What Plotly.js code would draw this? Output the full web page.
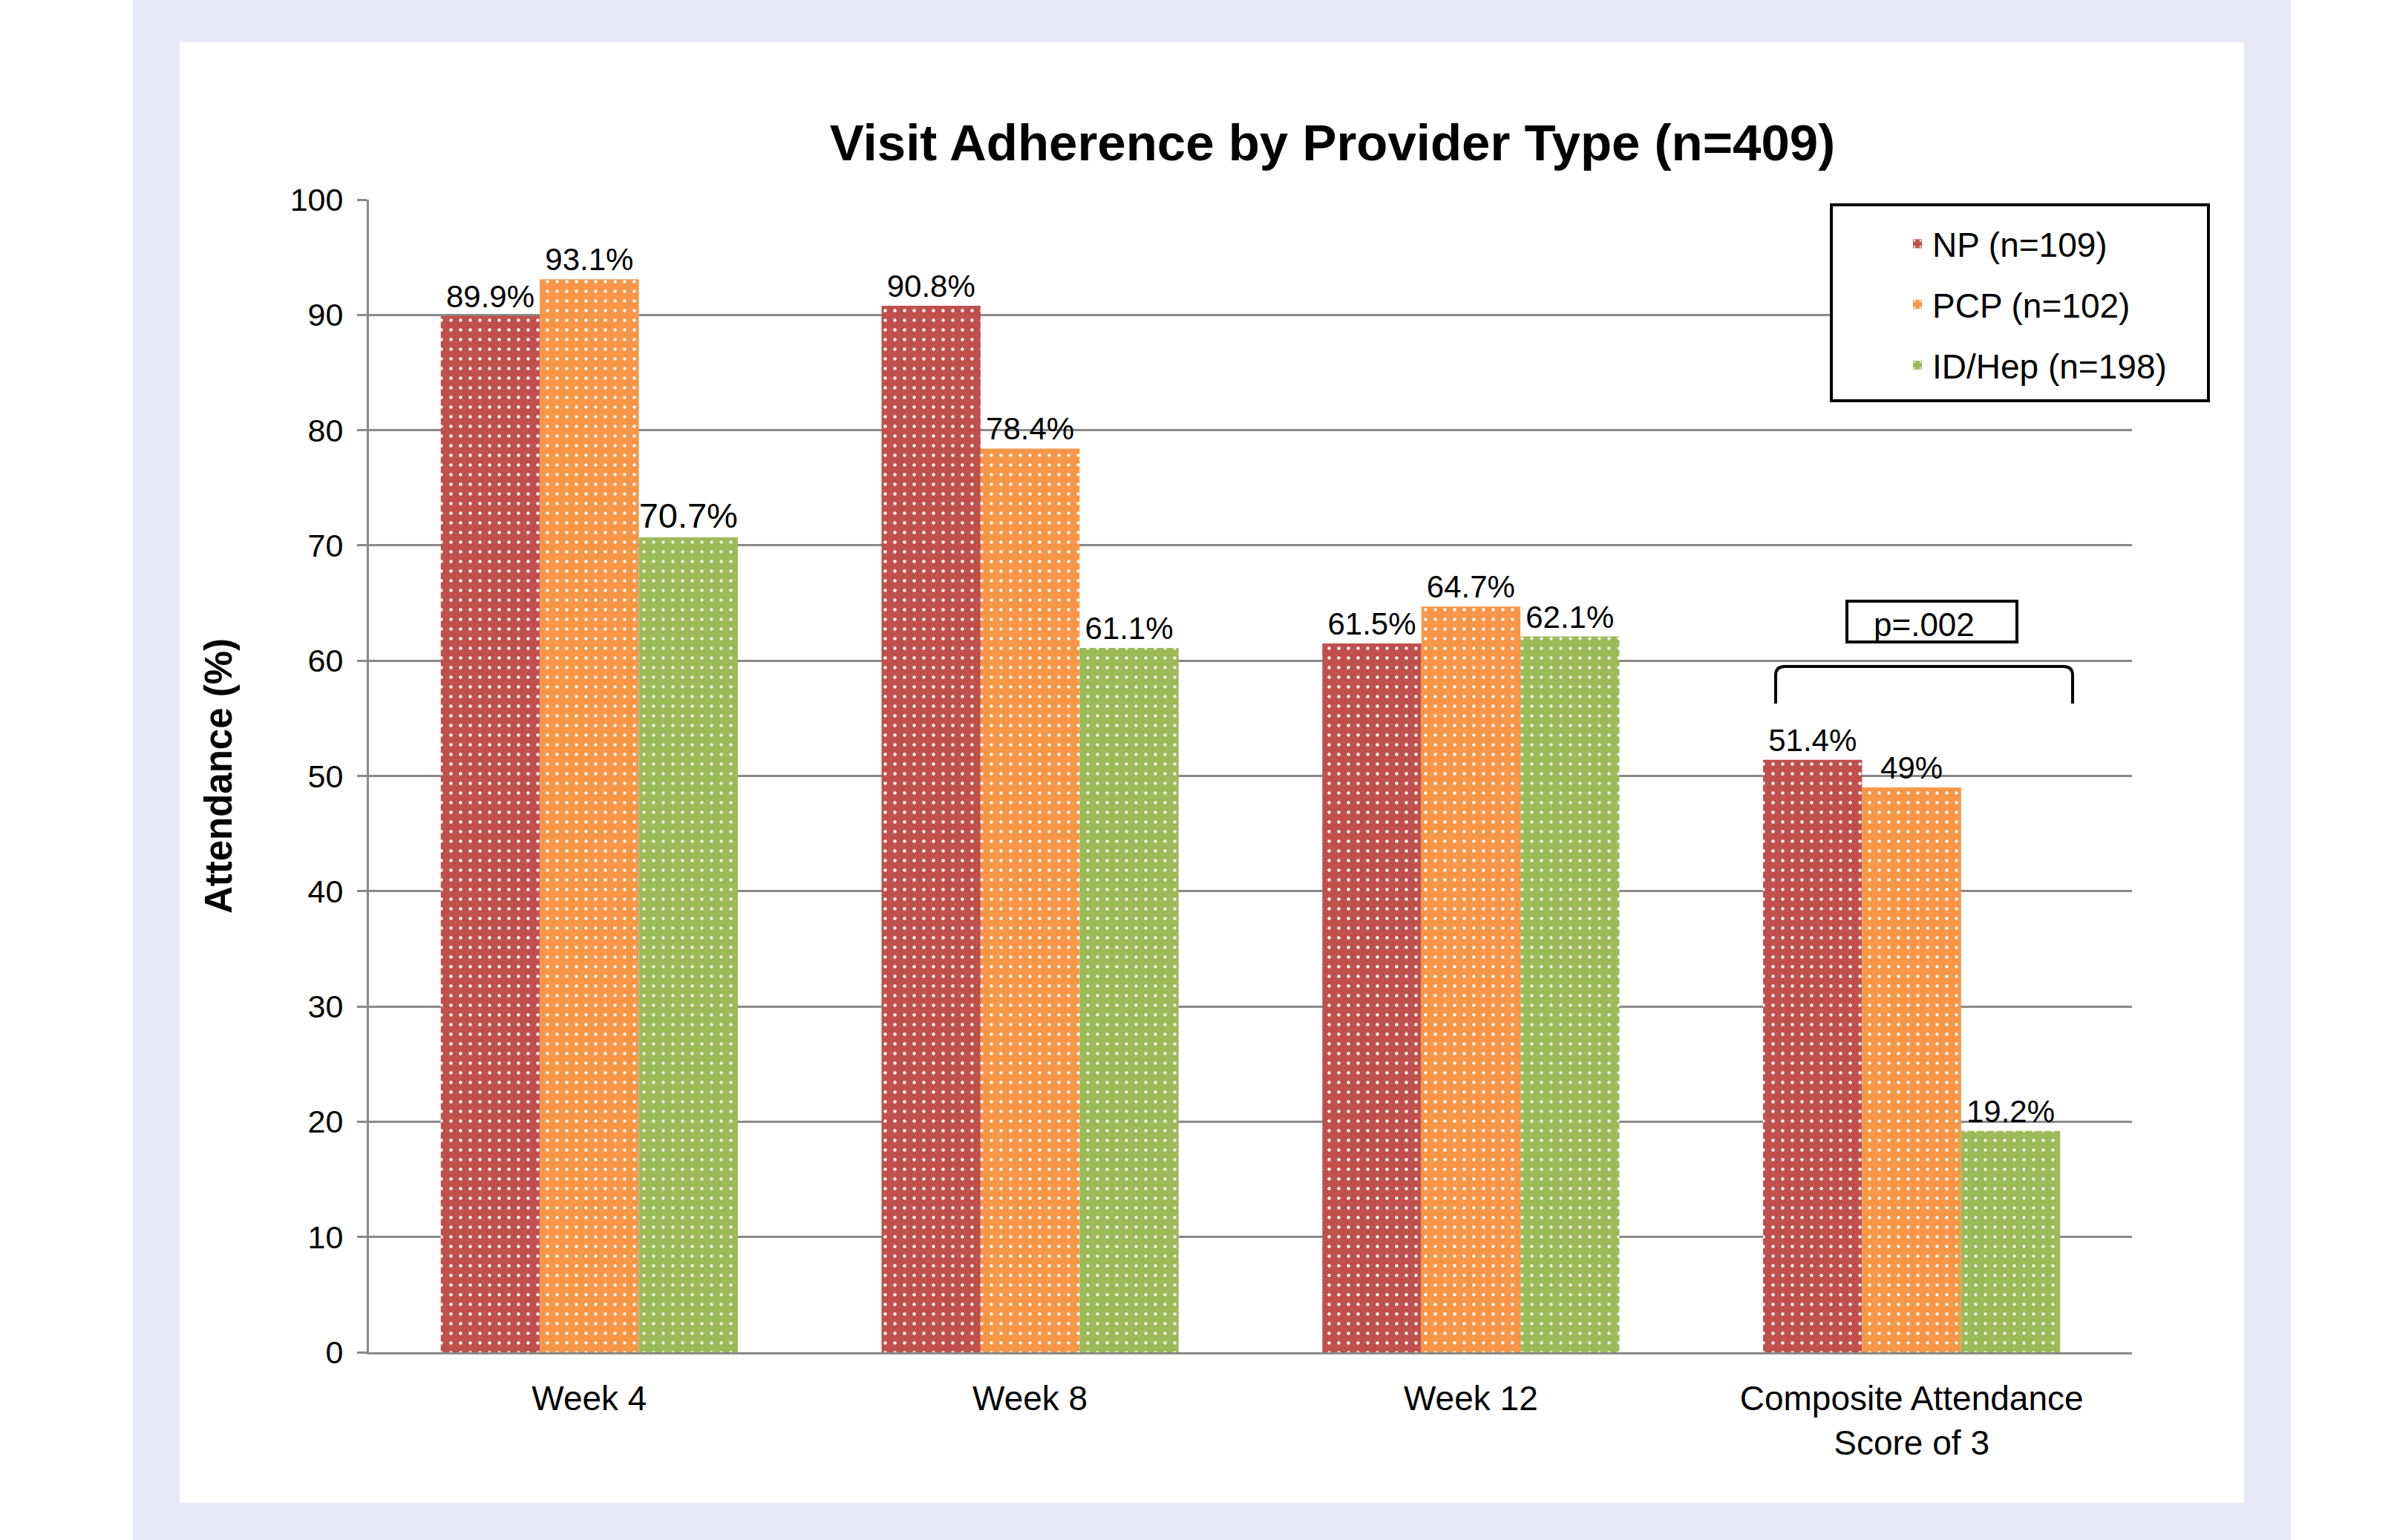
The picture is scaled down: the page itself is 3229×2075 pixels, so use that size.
<!DOCTYPE html>
<html>
<head>
<meta charset="utf-8">
<script src="https://cdn.plot.ly/plotly-3.0.1.min.js"></script>
<style>
  html, body { margin: 0; padding: 0; background: #ffffff; }
  #chart { width: 3229px; height: 2075px; }
</style>
</head>
<body>
<div id="chart"></div>
<script>
// ---- Data ----
const categories = ['Week 4', 'Week 8', 'Week 12', 'Composite Attendance Score of 3'];
const tickLabels = ['Week 4', 'Week 8', 'Week 12', 'Composite Attendance<br>Score of 3'];
const seriesNames = ['NP (n=109)', 'PCP (n=102)', 'ID/Hep (n=198)'];
const npValues = [89.9, 90.8, 61.5, 51.4];
const pcpValues = [93.1, 78.4, 64.7, 49];
const idhepValues = [70.7, 61.1, 62.1, 19.2];
const yTickValues = [0, 10, 20, 30, 40, 50, 60, 70, 80, 90, 100];
const chartTitle = 'Visit Adherence by Provider Type (n=409)';
const yAxisTitle = 'Attendance (%)';
const pValueText = 'p=.002';

// ---- Layout geometry (pixels) ----
const FIG_W = 3229, FIG_H = 2075;
const PL = 497, PR = 2872, PT = 269, PB = 1822;
const PW = PR - PL, PH = PB - PT;
const X = px => (px - PL) / PW;
const Y = py => (PB - py) / PH;

const FONT = 'Liberation Sans, Arial, Helvetica, sans-serif';
const GRID = '#898989';
const colors = ['#C0504D', '#F79646', '#9BBB59'];
const dotColors = ['#FFFFFF', '#FFFFFF', '#EDF0E2'];

function pctLabels(vals) { return vals.map(v => v + '%'); }

const valueSets = [npValues, pcpValues, idhepValues];
const labelSizes = [42, 42, [47, 42, 42, 42]];

const traces = valueSets.map((vals, i) => ({
  type: 'bar',
  name: seriesNames[i],
  legendgroup: 'g' + i,
  x: categories,
  y: vals,
  text: pctLabels(vals),
  textposition: 'outside',
  cliponaxis: false,
  constraintext: 'none',
  textfont: { family: FONT, size: labelSizes[i], color: '#000000' },
  marker: {
    color: colors[i],
    line: { width: 0 },
    pattern: { shape: '.', fgcolor: dotColors[i], bgcolor: colors[i], size: 13, solidity: 0.09, fillmode: 'replace' }
  },
  hoverinfo: 'skip'
}));

// bracket path in pixels -> paper
function bracketPath(x0, x1, yTop, yBot, r) {
  return 'M' + X(x0) + ',' + Y(yBot) +
    ' L' + X(x0) + ',' + Y(yTop + r) +
    ' Q' + X(x0) + ',' + Y(yTop) + ' ' + X(x0 + r) + ',' + Y(yTop) +
    ' L' + X(x1 - r) + ',' + Y(yTop) +
    ' Q' + X(x1) + ',' + Y(yTop) + ' ' + X(x1) + ',' + Y(yTop + r) +
    ' L' + X(x1) + ',' + Y(yBot);
}

const shapes = [
  // lavender frame
  { type: 'rect', xref: 'paper', yref: 'paper', layer: 'below',
    x0: X(179), x1: X(3086), y0: Y(FIG_H), y1: Y(0),
    fillcolor: '#E9E8F8', line: { width: 0 } },
  // inner white panel
  { type: 'rect', xref: 'paper', yref: 'paper', layer: 'below',
    x0: X(242), x1: X(3023), y0: Y(2025), y1: Y(57),
    fillcolor: '#FFFFFF', line: { width: 0 } },
  // legend box
  { type: 'rect', xref: 'paper', yref: 'paper', layer: 'above',
    x0: X(2467), x1: X(2975), y0: Y(540), y1: Y(276),
    fillcolor: '#FFFFFF', line: { color: '#000000', width: 4 } },
  // p-value box
  { type: 'rect', xref: 'paper', yref: 'paper', layer: 'above',
    x0: X(2488), x1: X(2717), y0: Y(865), y1: Y(810),
    fillcolor: '#FFFFFF', line: { color: '#000000', width: 4 } },
  // bracket
  { type: 'path', xref: 'paper', yref: 'paper', layer: 'above',
    path: bracketPath(2392, 2792, 898, 948, 12),
    line: { color: '#000000', width: 4 } }
];

const layout = {
  width: FIG_W, height: FIG_H, autosize: false,
  margin: { l: PL, r: FIG_W - PR, t: PT, b: FIG_H - PB, pad: 0 },
  paper_bgcolor: '#FFFFFF',
  plot_bgcolor: '#FFFFFF',
  font: { family: FONT, color: '#000000' },
  title: {
    text: chartTitle,
    font: { family: FONT, size: 69, weight: 'bold', color: '#000000' },
    x: X(1795), xref: 'paper', xanchor: 'center',
    y: 1 - 192 / FIG_H, yref: 'container', yanchor: 'middle'
  },
  barmode: 'group',
  bargap: 0.326,
  bargroupgap: 0,
  showlegend: true,
  legend: {
    x: X(2563), xanchor: 'left', y: Y(292), yanchor: 'top',
    bgcolor: 'rgba(0,0,0,0)', borderwidth: 0,
    font: { family: FONT, size: 46, color: '#000000' },
    tracegroupgap: 19, traceorder: 'grouped'
  },
  xaxis: {
    type: 'category',
    categoryorder: 'array', categoryarray: categories,
    tickmode: 'array', tickvals: categories, ticktext: tickLabels,
    tickfont: { family: FONT, size: 46, color: '#000000' },
    ticklabelstandoff: 20,
    showline: true, linecolor: GRID, linewidth: 3,
    ticks: '', showgrid: false, zeroline: false,
    range: [-0.5, 3.5], fixedrange: true
  },
  yaxis: {
    range: [0, 100], tickmode: 'array', tickvals: yTickValues,
    tickfont: { family: FONT, size: 43, color: '#000000' },
    ticklabelstandoff: 10,
    showline: true, linecolor: GRID, linewidth: 3,
    ticks: 'outside', ticklen: 13, tickwidth: 3, tickcolor: GRID,
    showgrid: true, gridcolor: GRID, gridwidth: 3,
    zeroline: false,
    title: { text: yAxisTitle, font: { family: FONT, size: 51, weight: 'bold', color: '#000000' }, standoff: 62 },
    fixedrange: true
  },
  shapes: shapes,
  annotations: [
    { text: pValueText, xref: 'paper', yref: 'paper', x: X(2592), y: Y(842),
      xanchor: 'center', yanchor: 'middle', showarrow: false,
      font: { family: FONT, size: 44, color: '#000000' } }
  ]
};

Plotly.newPlot('chart', traces, layout, { displayModeBar: false, staticPlot: true });
</script>
</body>
</html>
